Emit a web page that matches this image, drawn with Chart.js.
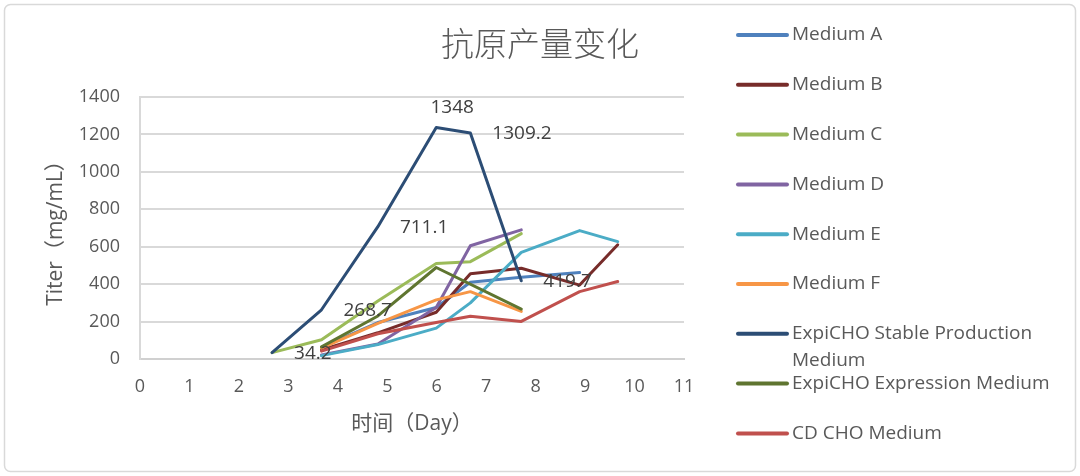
<!DOCTYPE html>
<html><head><meta charset="utf-8">
<script src="https://cdn.jsdelivr.net/npm/chart.js@4/dist/chart.umd.min.js"></script>
<style>html,body{margin:0;padding:0;background:#fff}canvas{display:block}</style>
</head><body>
<canvas id="c" width="1080" height="476"></canvas>
<script>
// ---- data ----
const chartTitle = '抗原产量变化';
const xAxisTitle = '时间（Day）';
const yAxisTitle = 'Titer（mg/mL）';
const days = [2.67, 3.67, 4.81, 5.99, 6.68, 7.71, 8.89, 9.66];
const seriesNames = ['Medium A','Medium B','Medium C','Medium D','Medium E','Medium F',
  'ExpiCHO Stable Production Medium','ExpiCHO Expression Medium','CD CHO Medium'];
const mediumA = [null, 62, 195, 275, 410, 437, 462, null];
const mediumB = [null, 48, 140, 250, 455, 485, 395, 610];
const mediumC = [34, 103, 310, 510, 520, 670, null, null];
const mediumD = [null, 22, 80, 275, 605, 690, null, null];
const mediumE = [null, 18, 77, 165, 300, 570, 686, 627];
const mediumF = [null, 58, 190, 316, 360, 254, null, null];
const expiStable = [34.2, 263, 707, 1237, 1208, 418, null, null];
const expiExpression = [null, 65, 230, 489, null, 267, null, null];
const cdCHO = [null, 42, 135, 195, 228, 201, 360, 414];
const stableLabels = ['34.2', '268.7', '711.1', '1348', '1309.2', '419.7'];
const seriesValues = [mediumA, mediumB, mediumC, mediumD, mediumE, mediumF, expiStable, expiExpression, cdCHO];
const seriesColors = ['#4F81BD','#772C2A','#9BBB59','#8064A2','#4BACC6','#F79646','#2C4D75','#5F7530','#C0504D'];

const FONT = "'Open Sans', 'Noto Sans CJK SC', sans-serif";
const TXT = '#595959';

function toPoints(vals) {
  const pts = [];
  vals.forEach((v, i) => { if (v !== null) pts.push({x: days[i], y: v}); });
  return pts;
}

const datasets = seriesNames.map((name, i) => ({
  label: name,
  data: toPoints(seriesValues[i]),
  borderColor: seriesColors[i],
  backgroundColor: seriesColors[i],
  borderWidth: 3,
  pointRadius: 0,
  tension: 0,
  fill: false,
  borderCapStyle: 'round',
  borderJoinStyle: 'round',
  order: seriesNames.length - 1 - i
}));

const decorPlugin = {
  id: 'decor',
  beforeDraw(chart) {
    const ctx = chart.ctx;
    ctx.save();
    ctx.fillStyle = '#fff';
    ctx.fillRect(0, 0, chart.width, chart.height);
    ctx.strokeStyle = '#d9d9d9';
    ctx.lineWidth = 1.5;
    ctx.beginPath();
    ctx.roundRect(4.5, 4.5, 1071, 467, 6);
    ctx.stroke();
    ctx.restore();
  },
  afterDraw(chart) {
    const ctx = chart.ctx;
    ctx.save();
    // title
    ctx.fillStyle = TXT;
    ctx.font = "300 33px 'Noto Sans CJK SC', sans-serif";
    ctx.textAlign = 'center';
    ctx.textBaseline = 'middle';
    ctx.fillText(chartTitle, 540, 43);

    // data labels for stable series
    const si = 6;
    const meta = chart.getDatasetMeta(si);
    ctx.font = "19px " + FONT;
    ctx.fillStyle = '#404040';
    meta.data.forEach((el, i) => {
      const t = stableLabels[i];
      if (t === undefined) return;
      if (i === 3) {
        ctx.textAlign = 'center';
        ctx.textBaseline = 'middle';
        ctx.fillText(t, el.x + 16, el.y - 20);
      } else {
        ctx.textAlign = 'left';
        ctx.textBaseline = 'middle';
        ctx.fillText(t, el.x + 22, el.y + 1);
      }
    });

    // legend
    ctx.font = "19px " + FONT;
    ctx.textAlign = 'left';
    ctx.textBaseline = 'middle';
    const maxW = 268;
    chart.data.datasets.forEach((ds, i) => {
      const y = 35 + i * 49.8;
      ctx.strokeStyle = ds.borderColor;
      ctx.lineWidth = 4;
      ctx.lineCap = 'round';
      ctx.beginPath();
      ctx.moveTo(738, y);
      ctx.lineTo(787, y);
      ctx.stroke();
      ctx.fillStyle = TXT;
      const words = ds.label.split(' ');
      const lines = [];
      let cur = '';
      words.forEach(w => {
        const test = cur ? cur + ' ' + w : w;
        if (ctx.measureText(test).width > maxW && cur) { lines.push(cur); cur = w; }
        else cur = test;
      });
      lines.push(cur);
      lines.forEach((ln, k) => ctx.fillText(ln, 792, y + k * 26.5));
    });
    ctx.restore();
  }
};

new Chart(document.getElementById('c'), {
  type: 'line',
  data: { datasets },
  options: {
    responsive: false,
    animation: false,
    events: [],
    layout: { padding: { left: 0, right: 1080 - 684, top: 97, bottom: 0 } },
    plugins: { legend: { display: false }, title: { display: false }, tooltip: { enabled: false } },
    scales: {
      x: {
        type: 'linear', min: 0, max: 11,
        ticks: { stepSize: 1, color: TXT, font: { size: 18, family: FONT }, padding: 17, maxRotation: 0, autoSkip: false,
                 callback: v => String(v) },
        grid: { display: false, drawTicks: false },
        border: { display: true, color: '#d0d0d0', width: 2 },
        title: { display: true, text: xAxisTitle, color: TXT, font: { size: 21, family: FONT }, padding: { top: 0, bottom: 39 } },
        afterFit(s) { s.height = 476 - 359; }
      },
      y: {
        min: 0, max: 1400,
        ticks: { stepSize: 200, color: TXT, font: { size: 18, family: FONT }, padding: 20,
                 callback: v => String(v) },
        grid: { color: '#d9d9d9', lineWidth: 2, drawTicks: false },
        border: { display: true, color: '#d9d9d9', width: 2 },
        title: { display: true, text: yAxisTitle, color: TXT, font: { size: 21, family: FONT }, padding: { top: 43, bottom: 0 } },
        afterFit(s) { s.width = 140; }
      }
    }
  },
  plugins: [decorPlugin]
});
</script>
</body></html>
